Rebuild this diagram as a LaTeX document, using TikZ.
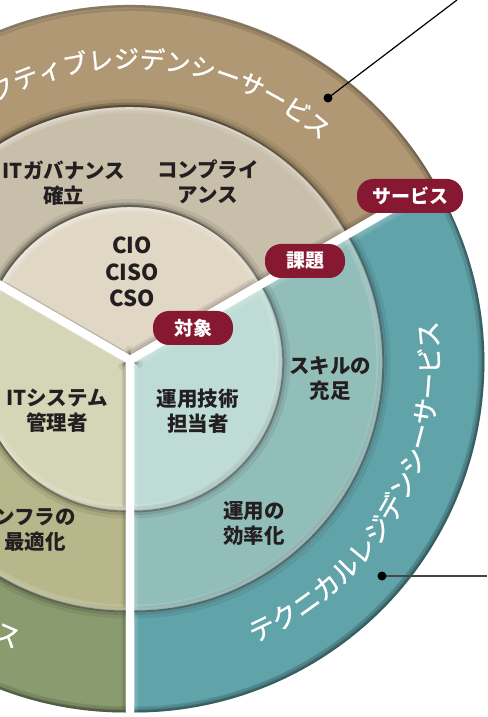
\documentclass[tikz,border=0pt]{standalone}
\usepackage{fontspec}
\usetikzlibrary{calc,positioning,decorations.text}

\newfontfamily\jpfont{Noto Sans CJK JP}
\newfontfamily\ringfont[FakeBold=1]{Noto Sans CJK JP}

\definecolor{brownout}{RGB}{176,152,116}
\definecolor{brownmid}{RGB}{200,191,170}
\definecolor{brownin}{RGB}{225,215,197}
\definecolor{tealout}{RGB}{96,164,170}
\definecolor{tealmid}{RGB}{146,190,186}
\definecolor{tealin}{RGB}{190,220,213}
\definecolor{greenout}{RGB}{137,155,111}
\definecolor{greenmid}{RGB}{183,183,139}
\definecolor{greenin}{RGB}{212,214,183}
\definecolor{pillred}{RGB}{134,24,49}
\definecolor{labeltext}{RGB}{35,31,32}
\definecolor{leadgrey}{RGB}{70,70,70}

\newcommand{\browntxt}{\ringfont\fontsize{25}{25}\selectfont\color{white}}
\newcommand{\tealtxt}{\ringfont\fontsize{26.5}{26.5}\selectfont\color{white}}

% one ring piece: start angle, end angle, inner r, outer r
\newcommand{\tilepath}[4]{(#1:#3) arc[start angle=#1, end angle=#2, radius=#3] -- (#2:#4) arc[start angle=#2, end angle=#1, radius=#4] -- cycle}

% filled piece with a soft bevel; #6 = colour of the outer rim
\newcommand{\tile}[6]{%
  \fill[#5] \tilepath{#1}{#2}{#3}{#4};
  \begin{scope}
    \clip \tilepath{#1}{#2}{#3}{#4};
    \foreach \o in {1,2.5,4}{
      \fill[black, opacity=.07, even odd rule, shift={(-\o,\o)}] (-800,-800) rectangle (800,800) \tilepath{#1}{#2}{#3}{#4};
      \fill[white, opacity=.08, even odd rule, shift={(\o,-\o)}] (-800,-800) rectangle (800,800) \tilepath{#1}{#2}{#3}{#4};
    }
    % shadow along the inner arc
    \draw[black, opacity=.07, line width=16pt] (#1:#3) arc[start angle=#1, end angle=#2, radius=#3];
    \draw[black, opacity=.12, line width=9pt] (#1:#3) arc[start angle=#1, end angle=#2, radius=#3];
    \draw[black, opacity=.25, line width=4pt] (#1:#3) arc[start angle=#1, end angle=#2, radius=#3];
    % rim along the outer arc
    \draw[#6, opacity=.12, line width=12pt] (#1:#4) arc[start angle=#1, end angle=#2, radius=#4];
    \draw[#6, opacity=.18, line width=5pt] (#1:#4) arc[start angle=#1, end angle=#2, radius=#4];
  \end{scope}}

\tikzset{
  lbl/.style={font=\jpfont\bfseries\fontsize{20.5}{25}\selectfont, text=labeltext, align=center},
  pill/.style={fill=pillred, text=white, rounded corners=16pt, minimum height=34pt, minimum width=80pt, inner xsep=15pt,
    font=\jpfont\bfseries\fontsize{19}{19}\selectfont},
  leader/.style={line width=1.2pt},
}

\begin{document}
\begin{tikzpicture}[x=1pt, y=1pt]
	\useasboundingbox (-130,-357) rectangle (357,360);

	% upper sector
	\begin{scope}[shift={(90:5)}]
		\tile{30}{150}{0.1}{148}{brownin}{white}
		\tile{30}{150}{148}{248}{brownmid}{white}
		\tile{30}{150}{248}{350}{brownout}{black}
		\path[decorate, decoration={text along path, text={|\browntxt|クティブレジデンシーサービス}, text align=center}]
			(125:287) arc[start angle=125, end angle=41.4, radius=287];
	\end{scope}

	% right sector
	\begin{scope}[shift={(-30:5)}]
		\tile{-90}{30}{0.1}{148}{tealin}{white}
		\tile{-90}{30}{148}{248}{tealmid}{white}
		\tile{-90}{30}{248}{350}{tealout}{black}
		\path[decorate, decoration={text along path, text={|\tealtxt|テクニカルレジデンシーサービス}, text align=center}]
			(-70:305) arc[start angle=-70, end angle=11, radius=305];
	\end{scope}

	% left sector
	\begin{scope}[shift={(210:5)}]
		\tile{150}{270}{0.1}{148}{greenin}{white}
		\tile{150}{270}{148}{248}{greenmid}{white}
		\tile{150}{270}{248}{350}{greenout}{black}
		\path[decorate, decoration={text along path, text={|\tealtxt|ビス}, text align=center}]
			(234:307) arc[start angle=234, end angle=254, radius=307];
	\end{scope}

	\node[lbl] (itgov) at (-66,177) {ITガバナンス\\確立};
	\node[lbl] (compl) at (78,178) {コンプライ\\アンス};
	\node[lbl, font=\jpfont\bfseries\fontsize{22}{26.5}\selectfont] (cxo) at (2,88) {CIO\\CISO\\CSO};
	\node[lbl] (optech) at (68,-51) {運用技術\\担当者};
	\node[lbl] (skill) at (200,-19) {スキルの\\充足};
	\node[lbl] (opeff) at (124,-164) {運用の\\効率化};
	\node[lbl] (itsys) at (-73,-51) {ITシステム\\管理者};
	\node[lbl] (infra) at (-95,-170) {ンフラの\\最適化};

	\node[pill] (target) at (63,32) {対象};
	\node[pill] (issue) at (175,99) {課題};
	\node[pill] (service) at (280,164) {サービス};

	\coordinate (topdot) at (198,262);
	\coordinate (topend) at (327,360);
	\draw[leader] (topdot) -- (topend);
	\fill (topdot) circle[radius=4.5];
	\coordinate (botdot) at (252,-216);
	\coordinate (botend) at (357,-216);
	\draw[leader, leadgrey] (botdot) -- (botend);
	\fill (botdot) circle[radius=4.5];
\end{tikzpicture}
\end{document}
